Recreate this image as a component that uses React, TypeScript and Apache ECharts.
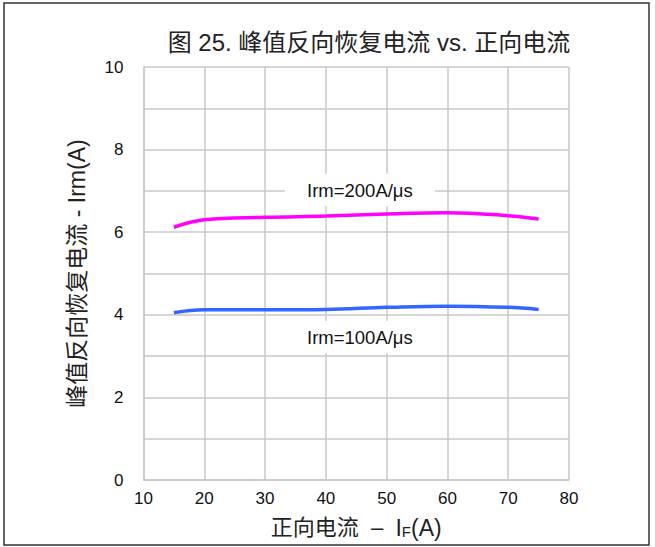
import React, { useEffect, useRef } from "react";
import * as echarts from "echarts";

const xValues = [15, 20, 30, 40, 50, 60, 70, 75];
const irm200 = [6.12, 6.3, 6.36, 6.39, 6.44, 6.47, 6.4, 6.32];
const irm100 = [4.05, 4.12, 4.12, 4.13, 4.18, 4.21, 4.18, 4.13];
const seriesNames = ["Irm=200A/μs", "Irm=100A/μs"];
const labelPos200: [number, number] = [45.6, 7.02];
const labelPos100: [number, number] = [45.6, 3.46];

const FONT = "'Liberation Sans', Arial, 'Noto Sans CJK SC', sans-serif";

export default function App() {
  const ref = useRef<HTMLDivElement>(null);
  useEffect(() => {
    const chart = echarts.init(ref.current!, null, { renderer: "svg" });
    const pts = (ys: number[]) => xValues.map((x, i) => [x, ys[i]]);
    const lbl = (name: string, coord: [number, number]) => ({
      symbol: "rect",
      symbolSize: 0,
      data: [{ coord, value: name }],
      label: {
        show: true,
        position: "inside",
        formatter: name,
        color: "#111",
        fontSize: 18.5,
        fontFamily: FONT,
        backgroundColor: "#fff",
        padding: [7, 22, 7, 22],
      },
    });
    chart.setOption({
      animation: false,
      backgroundColor: "#fff",
      textStyle: { fontFamily: FONT },
      title: {
        text: "图 25. 峰值反向恢复电流 vs. 正向电流",
        left: 364,
        textAlign: "center",
        top: 25,
        textStyle: { fontSize: 24, fontWeight: "normal", color: "#222", fontFamily: FONT },
      },
      graphic: [
        {
          type: "rect",
          shape: { x: 4, y: 3, width: 645, height: 542 },
          style: { fill: "none", stroke: "#333", lineWidth: 1.5 },
          silent: true,
        },
      ],
      grid: { left: 143.5, right: 86, top: 67, bottom: 67 },
      xAxis: {
        type: "value",
        min: 10,
        max: 80,
        interval: 10,
        name: "{c|正向电流}  {c|–}  {i|I}{s|F}{i|(A)}",
        nameLocation: "middle",
        nameGap: 36,
        nameTextStyle: {
          fontSize: 22,
          color: "#222",
          fontFamily: FONT,
          rich: {
            c: { fontSize: 22, color: "#222", fontFamily: FONT },
            i: { fontSize: 23, color: "#222", fontFamily: FONT },
            s: { fontSize: 15, color: "#222", fontFamily: FONT, verticalAlign: "bottom", padding: [8, 0, 0, 0] },
          },
        },
        axisLine: { show: true, lineStyle: { color: "#c8c8c8", width: 1.5 } },
        axisTick: { show: false },
        splitLine: { show: true, lineStyle: { color: "#c8c8c8", width: 1.5 } },
        axisLabel: { fontSize: 17, color: "#111", margin: 10, fontFamily: FONT },
      },
      yAxis: {
        type: "value",
        min: 0,
        max: 10,
        interval: 2,
        name: "峰值反向恢复电流 - Irm(A)",
        nameLocation: "middle",
        nameGap: 55,
        nameTextStyle: { fontSize: 23, color: "#222", fontFamily: FONT },
        axisLine: { show: true, lineStyle: { color: "#c8c8c8", width: 1.5 } },
        axisTick: { show: false },
        minorTick: { show: false, splitNumber: 2 },
        splitLine: { show: true, lineStyle: { color: "#c8c8c8", width: 1.5 } },
        minorSplitLine: { show: true, lineStyle: { color: "#c8c8c8", width: 1.5 } },
        axisLabel: { fontSize: 17, color: "#111", margin: 20, fontFamily: FONT },
      },
      series: [
        {
          name: seriesNames[0],
          type: "line",
          data: pts(irm200),
          smooth: 0.4,
          showSymbol: false,
          lineStyle: { color: "#ff00ff", width: 3.5 },
          markPoint: lbl(seriesNames[0], labelPos200),
          z: 3,
        },
        {
          name: seriesNames[1],
          type: "line",
          data: pts(irm100),
          smooth: 0.4,
          showSymbol: false,
          lineStyle: { color: "#3366ff", width: 3.5 },
          markPoint: lbl(seriesNames[1], labelPos100),
          z: 3,
        },
      ],
    });
    return () => chart.dispose();
  }, []);
  return (
    <div
      ref={ref}
      style={{ position: "fixed", left: 0, top: 0, width: 655, height: 547 }}
    />
  );
}
